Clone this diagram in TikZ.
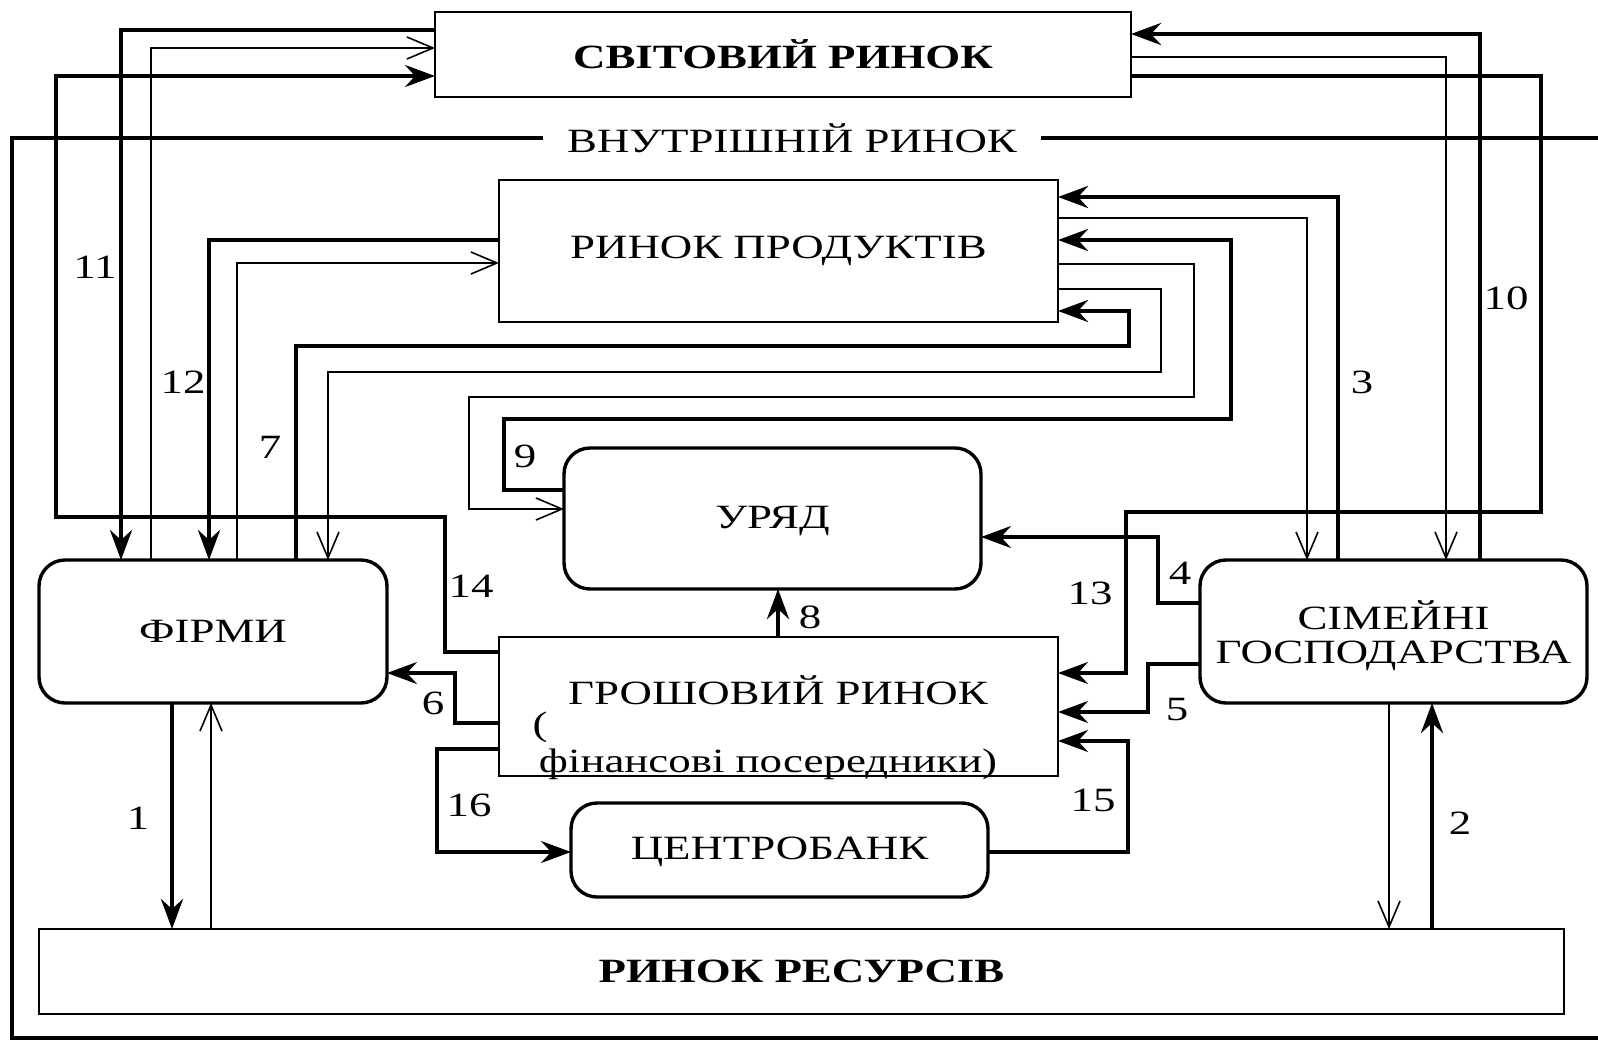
\documentclass[tikz,border=0pt]{standalone}
\usepackage{fontspec}
\setmainfont{Liberation Serif}[FakeStretch=1.32]
\usetikzlibrary{arrows.meta}
\begin{document}
\begin{tikzpicture}[x=0.5pt,y=-0.5pt,
  font=\fontsize{17}{17}\selectfont,
  plainbox/.style={draw, line width=1.4pt, inner sep=0pt, outer sep=0pt, align=center},
  roundbox/.style={plainbox, rounded corners=13pt, line width=1.7pt},
  thk/.style={line width=2.3pt},
  med/.style={line width=1.6pt},
  thn/.style={line width=0.8pt},
  fa/.style={-{Stealth[length=15pt,width=11pt,inset=5pt]}},
  oa/.style={-{Straight Barb[length=13pt,width=11pt]}},
  lbl/.style={inner sep=0pt},
  txt/.style={inner sep=0pt, align=center}]
\useasboundingbox (0,0) rectangle (1598,1043);

% boxes
\node[plainbox, minimum width=348pt, minimum height=42.5pt, font=\fontsize{17}{17}\selectfont\bfseries] (svit) at (783,54.5) {СВІТОВИЙ РИНОК};
\node[plainbox, minimum width=279.5pt, minimum height=71pt] (prod) at (778.5,251) {РИНОК ПРОДУКТІВ};
\node[roundbox, minimum width=208.5pt, minimum height=70.5pt] (uryad) at (772.5,518.5) {};
\node[txt] (uryadt) at (772.5,521) {УРЯД};
\node[roundbox, minimum width=174pt, minimum height=71.5pt] (firm) at (213,631.5) {ФІРМИ};
\node[roundbox, minimum width=193.5pt, minimum height=71.5pt] (sim) at (1393.5,631.5) {};
\node[txt] (simt) at (1393.5,636) {СІМЕЙНІ\\ГОСПОДАРСТВА};
\node[plainbox, minimum width=279.5pt, minimum height=69.5pt] (money) at (778.5,706.5) {};
\node[roundbox, minimum width=208.5pt, minimum height=47pt] (cb) at (779.5,850) {};
\node[txt] (cbt) at (779.5,852) {ЦЕНТРОБАНК};
\node[plainbox, minimum width=762.5pt, minimum height=42.5pt, font=\fontsize{17}{17}\selectfont\bfseries] (res) at (801.5,971.5) {РИНОК РЕСУРСІВ};

\node[txt, anchor=base] (m1) at (778,704) {ГРОШОВИЙ РИНОК};
\node[txt, anchor=base] (m2) at (540,735) {(};
\node[txt, anchor=base] (m3) at (768,772) {фінансові посередники)};

% inner market frame
\node[inner xsep=12pt, inner ysep=0pt] (inner) at (792,138) {ВНУТРІШНІЙ РИНОК};
\coordinate (fr1) at (1598,138);
\coordinate (fr2) at (12,138);
\coordinate (fr3) at (12,1038);
\coordinate (fr4) at (1598,1038);
\draw[thk] (fr1) -- (inner.east);
\draw[thk] (inner.west) -- (fr2) -- (fr3) -- (fr4);

% connectors
\draw[thk,fa] (svit.west |- 0,30) -- (121,30) -- (121,0 |- firm.north);
\draw[thn,oa] (151,0 |- firm.north) -- (151,48) -- (svit.west |- 0,48);
\draw[med,fa] (money.west |- 0,652) -- (445,652) -- (445,517) -- (56,517) -- (56,76) -- (svit.west |- 0,76);
\draw[thk,fa] (prod.west |- 0,240) -- (209,240) -- (209,0 |- firm.north);
\draw[thn,oa] (237,0 |- firm.north) -- (237,263) -- (prod.west |- 0,263);
\draw[thk,fa] (296,0 |- firm.north) -- (296,346) -- (1129,346) -- (1129,311) -- (prod.east |- 0,311);
\draw[thn,oa] (prod.east |- 0,289) -- (1161,289) -- (1161,372) -- (328,372) -- (328,0 |- firm.north);
\draw[thn,oa] (prod.east |- 0,264) -- (1194,264) -- (1194,397) -- (469,397) -- (469,509) -- (uryad.west |- 0,509);
\draw[thk,fa] (uryad.west |- 0,490) -- (504,490) -- (504,419) -- (1231,419) -- (1231,240) -- (prod.east |- 0,240);
\draw[thk,fa] (1338,0 |- sim.north) -- (1338,197) -- (prod.east |- 0,197);
\draw[thn,oa] (prod.east |- 0,218) -- (1307,218) -- (1307,0 |- sim.north);
\draw[thk,fa] (1480,0 |- sim.north) -- (1480,34) -- (svit.east |- 0,34);
\draw[thn,oa] (svit.east |- 0,57) -- (1446,57) -- (1446,0 |- sim.north);
\draw[med,fa] (svit.east |- 0,76) -- (1541,76) -- (1541,512) -- (1126,512) -- (1126,673) -- (money.east |- 0,673);
\draw[med,fa] (sim.west |- 0,603) -- (1158,603) -- (1158,537) -- (uryad.east |- 0,537);
\draw[med,fa] (sim.west |- 0,664) -- (1148,664) -- (1148,712) -- (money.east |- 0,712);
\draw[med,fa] (cb.east |- 0,852) -- (1128,852) -- (1128,741) -- (money.east |- 0,741);
\draw[med,fa] (money.west |- 0,749) -- (437,749) -- (437,852) -- (cb.west |- 0,852);
\draw[med,fa] (money.west |- 0,723) -- (455,723) -- (455,673) -- (firm.east |- 0,673);
\draw[thk,fa] (778,0 |- money.north) -- (778,0 |- uryad.south);
\draw[thk,fa] (172,0 |- firm.south) -- (172,0 |- res.north);
\draw[thn,oa] (211,0 |- res.north) -- (211,0 |- firm.south);
\draw[thn,oa] (1389,0 |- sim.south) -- (1389,0 |- res.north);
\draw[thk,fa] (1432,0 |- res.north) -- (1432,0 |- sim.south);

% numbers
\node[lbl] (n11) at (95,267) {11};
\node[lbl] (n12) at (183,382) {12};
\node[lbl] (n7) at (270,447) {7};
\node[lbl] (n14) at (471,586) {14};
\node[lbl] (n9) at (525,456) {9};
\node[lbl] (n8) at (810,617) {8};
\node[lbl] (n6) at (433,703) {6};
\node[lbl] (n16) at (469,805) {16};
\node[lbl] (n1) at (138,818) {1};
\node[lbl] (n3) at (1362,382) {3};
\node[lbl] (n10) at (1506,298) {10};
\node[lbl] (n13) at (1090,593) {13};
\node[lbl] (n4) at (1180,573) {4};
\node[lbl] (n5) at (1177,710) {5};
\node[lbl] (n15) at (1093,800) {15};
\node[lbl] (n2) at (1460,823) {2};
\end{tikzpicture}
\end{document}
